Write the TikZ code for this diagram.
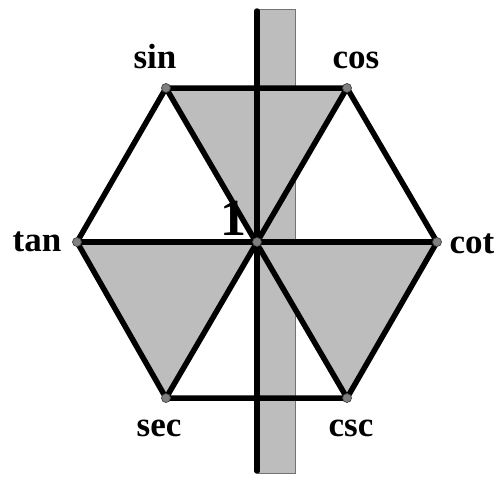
\documentclass[tikz,border=0pt]{standalone}
\usepackage{fontspec}
\setmainfont{Liberation Serif}
\begin{document}
\begin{tikzpicture}[x=1pt,y=-1pt,
  shade/.style={fill=black!26},
  edge/.style={line width=5.5pt,line cap=round,line join=round},
  vdot/.style={circle,fill=black!50,draw=black!75,line width=0.7pt,inner sep=0pt,minimum size=9pt},
  lab/.style={font=\bfseries\fontsize{35}{40}\selectfont,anchor=base,inner sep=0pt}]
\useasboundingbox (0,0) rectangle (502,477);
% strip
\fill[black!26,draw=black!55,line width=0.8pt] (258,9) rectangle (295,473);
% coordinates
\coordinate (S) at (166,88);
\coordinate (C) at (347,88);
\coordinate (T) at (77,242);
\coordinate (K) at (437,242);
\coordinate (E) at (166,398);
\coordinate (R) at (347,398);
\coordinate (O) at (257,242);
\coordinate (top) at (257,11);
\coordinate (bot) at (257,471);
% shaded triangles
\fill[shade] (S) -- (C) -- (O) -- cycle;
\fill[shade] (T) -- (E) -- (O) -- cycle;
\fill[shade] (O) -- (K) -- (R) -- cycle;
% lines
\draw[edge] (S) -- (C) -- (K) -- (R) -- (E) -- (T) -- cycle;
\draw[edge] (T) -- (K);
\draw[edge] (S) -- (R);
\draw[edge] (C) -- (E);
\draw[edge] (top) -- (bot);
% dots
\foreach \p in {S,C,T,K,E,R,O} \node[vdot] (d\p) at (\p) {};
% labels
\node[lab] (ls) at (155,68) {sin};
\node[lab] (lc) at (356,68) {cos};
\node[lab] (lt) at (37,251) {tan};
\node[lab] (lk) at (472,253) {cot};
\node[lab] (le) at (159,436) {sec};
\node[lab] (lr) at (351,436) {csc};
\node[font=\bfseries\fontsize{52}{56}\selectfont,anchor=base,inner sep=0pt] (one) at (233,235) {1};
\end{tikzpicture}
\end{document}
